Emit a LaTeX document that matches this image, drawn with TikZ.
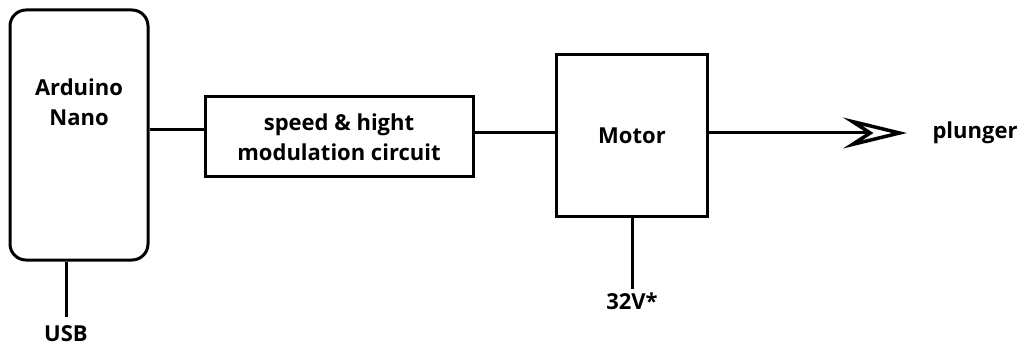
\documentclass[tikz,border=0pt]{standalone}
\usepackage{fontspec}
\setmainfont{Open Sans}
\usetikzlibrary{arrows.meta, positioning}

\begin{document}
\begin{tikzpicture}[
  x=1pt, y=-1pt,
  every node/.style = {font=\bfseries\fontsize{22}{30}\selectfont},
  blockbox/.style = {rectangle, draw=black, line width=3pt,
                     inner sep=0pt, align=center},
  wire/.style = {line width=3pt, black},
]
\useasboundingbox (0,0) rectangle (1027,347);

%% == Arduino Nano ==========================================================
\node[blockbox, rounded corners=16pt,
      minimum width=138pt, minimum height=250pt] at (79, 135) (nano) {};
\node[align=center] at (79, 102) (nanotext) {Arduino\\Nano};

%% == speed & hight modulation ==============================================
\node[blockbox, minimum width=268pt, minimum height=80pt]
  at (339, 137) (mod) {speed \& hight\\modulation circuit};

%% == Motor =================================================================
\node[blockbox, minimum width=151pt, minimum height=162pt]
  at (632, 136) (motor) {Motor};

%% == labels ================================================================
\node at (975, 133) (plunger) {plunger};
\node at (632, 301) (volt) {32V*};
\node at (66, 334) (usb) {USB};

%% -- connections -----------------------------------------------------------
\draw[wire] (nano.east |- mod.177) -- (mod.177);
\draw[wire] (mod.2) -- (motor.west |- mod.2);
\draw[wire, shorten >=22pt,
      -{Stealth[open, length=64pt, width=31pt, inset=24pt, line width=3.5pt]}]
  (motor.east |- plunger) -- (plunger.west);
\draw[wire] (motor.south) -- (volt.north);
\draw[wire] (nano.south -| usb) -- ([yshift=5pt]usb.north);

\end{tikzpicture}
\end{document}
